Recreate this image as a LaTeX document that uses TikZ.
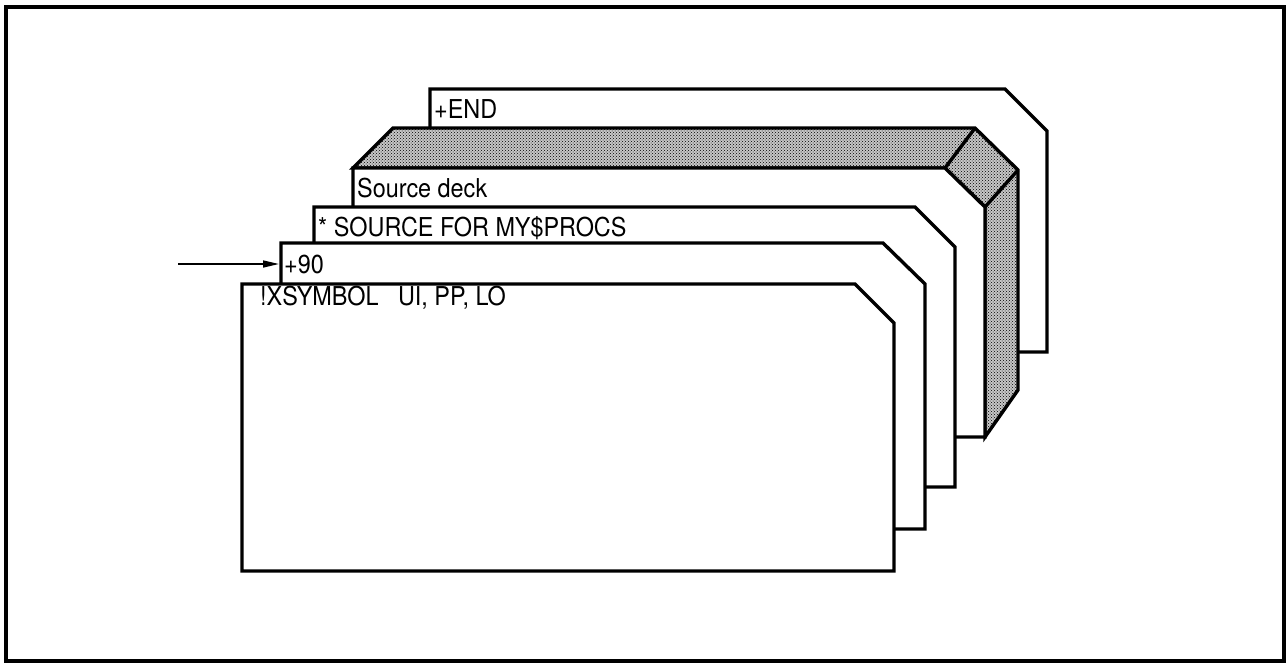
\documentclass[tikz,border=0pt]{standalone}
\usepackage{fontspec}
\setmainfont{TeX Gyre Heros}[FakeStretch=0.9]
\usetikzlibrary{arrows.meta,patterns}
\begin{document}
\begin{tikzpicture}[x=1pt,y=-1pt,
  cardline/.style={draw=black,line width=3.4pt,line join=miter,fill=white},
  shade/.style={draw=black,line width=3.4pt,line join=miter,preaction={fill=black!22},pattern=crosshatch dots,pattern color=black},
  label/.style={anchor=base west,inner sep=0pt,font=\fontsize{26}{28}\selectfont},
  frame/.style={draw=black,line width=3.2pt}]
\useasboundingbox (0,0) rectangle (1288,665);
\draw[frame] (6,7) rectangle (1284,661);
% card 5 (+END)
\path[cardline] (430,89) -- (1005,89) -- (1047,131) -- (1047,352) -- (430,352) -- cycle;
\node[label] (tEnd) at (434,118) {+END};
% card 4 (Source deck) with shaded top and side
\path[shade] (353,168) -- (393,128) -- (975,128) -- (1018,170) -- (1018,390) -- (985,437) -- (985,207) -- (945,168) -- cycle;
\draw[line width=3.4pt] (945,168) -- (975,128);
\draw[line width=3.4pt] (985,207) -- (1018,170);
\path[cardline] (353,168) -- (945,168) -- (985,207) -- (985,437) -- (353,437) -- cycle;
\node[label] (tDeck) at (357,197) {Source deck};
% card 3
\path[cardline] (314,207) -- (915,207) -- (955,247) -- (955,487) -- (314,487) -- cycle;
\node[label] (tSrc) at (318,236) {* SOURCE FOR MY\$PROCS};
% card 2
\path[cardline] (281,243) -- (883,243) -- (925,284) -- (925,529) -- (281,529) -- cycle;
\node[label] (t90) at (284,273) {+90};
\coordinate (c2left) at (279,264);
% card 1
\path[cardline] (242,284) -- (855,284) -- (894,323) -- (894,571) -- (242,571) -- cycle;
\node[label] (tX) at (260,305) {!XSYMBOL\hspace{0.5em} UI, PP, LO};
% arrow
\coordinate (arrStart) at (178,264);
\draw[line width=1.6pt,-{Triangle[length=16pt,width=7pt]}] (arrStart) -- (c2left);
\end{tikzpicture}
\end{document}
